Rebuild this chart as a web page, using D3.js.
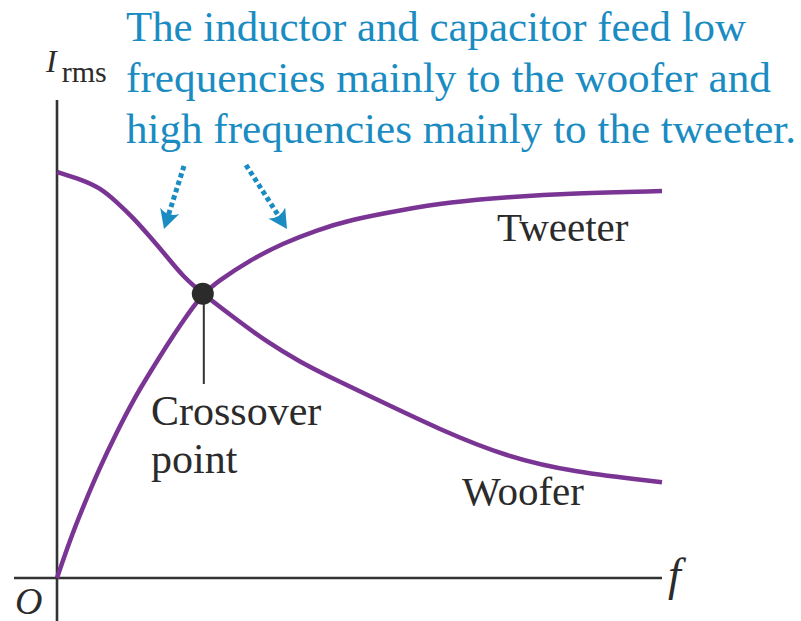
<!DOCTYPE html>
<html>
<head>
<meta charset="utf-8">
<script src="https://cdn.jsdelivr.net/npm/d3@7/dist/d3.min.js"></script>
<style>
  html, body { margin: 0; padding: 0; background: #fff; }
  svg { display: block; }
</style>
</head>
<body>
<svg id="chart" width="801" height="621"></svg>
<script>
// ---- Data (relative frequency 0..10, relative current 0..1) ----
const wooferF = [0, 0.43, 0.71, 0.99, 1.26, 1.54, 1.82, 2.08, 2.41, 2.91, 3.47, 4.02, 4.51, 5.17, 6.33, 7.44, 8.53, 10];
const wooferI = [1.0, 0.98, 0.961, 0.926, 0.887, 0.84, 0.791, 0.743, 0.70, 0.643, 0.581, 0.532, 0.495, 0.448, 0.365, 0.298, 0.261, 0.236];
const tweeterF = [0, 0.215, 0.43, 0.71, 0.99, 1.26, 1.54, 1.82, 2.08, 2.41, 2.65, 3.19, 3.74, 4.30, 4.84, 5.67, 6.5, 7.44, 8.53, 10];
const tweeterI = [0, 0.094, 0.175, 0.273, 0.36, 0.438, 0.507, 0.574, 0.633, 0.70, 0.73, 0.783, 0.825, 0.857, 0.882, 0.906, 0.926, 0.938, 0.948, 0.953];
const crossover = { f: 2.41, i: 0.70 };
const annotationLines = [
  "The inductor and capacitor feed low",
  "frequencies mainly to the woofer and",
  "high frequencies mainly to the tweeter."
];
const curveLabels = ["Tweeter", "Woofer"];
const crossoverLabel = ["Crossover", "point"];

// ---- Layout ----
const svg = d3.select("#chart");
const x = d3.scaleLinear().domain([0, 10]).range([57, 662]);
const y = d3.scaleLinear().domain([0, 1]).range([578, 172]);

const purple = "#7a3594";
const axisCol = "#333333";
const blue = "#1a8cc2";
const serif = "'Liberation Serif', 'Times New Roman', serif";

// axes
svg.append("line")
  .attr("x1", x(0) - 43).attr("x2", x(10))
  .attr("y1", y(0)).attr("y2", y(0))
  .attr("stroke", axisCol).attr("stroke-width", 2.6);
svg.append("line")
  .attr("x1", x(0)).attr("x2", x(0))
  .attr("y1", 100).attr("y2", 621)
  .attr("stroke", axisCol).attr("stroke-width", 2.6);

// curves
const line = d3.line()
  .x(d => x(d[0])).y(d => y(d[1]))
  .curve(d3.curveBasis);

svg.append("path")
  .datum(d3.zip(wooferF, wooferI))
  .attr("d", line)
  .attr("fill", "none").attr("stroke", purple)
  .attr("stroke-width", 4.5).attr("stroke-linecap", "butt");

svg.append("path")
  .datum(d3.zip(tweeterF, tweeterI))
  .attr("d", line)
  .attr("fill", "none").attr("stroke", purple)
  .attr("stroke-width", 4.5).attr("stroke-linecap", "butt");

// crossover leader + dot
svg.append("line")
  .attr("x1", x(crossover.f) + 1).attr("x2", x(crossover.f) + 1)
  .attr("y1", y(crossover.i)).attr("y2", 384)
  .attr("stroke", axisCol).attr("stroke-width", 2);
svg.append("circle")
  .attr("cx", x(crossover.f)).attr("cy", y(crossover.i))
  .attr("r", 11).attr("fill", "#2b2b2b");

// labels
svg.append("text")
  .attr("x", 497).attr("y", 241)
  .attr("font-family", serif).attr("font-size", 41).attr("fill", "#2b2b2b")
  .text(curveLabels[0]);
svg.append("text")
  .attr("x", 462).attr("y", 505)
  .attr("font-family", serif).attr("font-size", 41).attr("fill", "#2b2b2b")
  .text(curveLabels[1]);
svg.append("text")
  .attr("x", 151).attr("y", 425)
  .attr("font-family", serif).attr("font-size", 42).attr("fill", "#2b2b2b")
  .text(crossoverLabel[0]);
svg.append("text")
  .attr("x", 151).attr("y", 473)
  .attr("font-family", serif).attr("font-size", 42).attr("fill", "#2b2b2b")
  .text(crossoverLabel[1]);

// axis titles
const yl = svg.append("text")
  .attr("x", 46).attr("y", 72)
  .attr("font-family", serif).attr("fill", "#2b2b2b");
yl.append("tspan").attr("font-size", 32).attr("font-style", "italic").text("I");
yl.append("tspan").attr("font-size", 30).attr("dx", 5).attr("dy", 10).text("rms");

svg.append("text")
  .attr("x", 668).attr("y", 590)
  .attr("font-family", serif).attr("font-size", 46).attr("font-style", "italic")
  .attr("fill", "#2b2b2b").text("f");
svg.append("text")
  .attr("x", 15).attr("y", 614)
  .attr("font-family", serif).attr("font-size", 38).attr("font-style", "italic")
  .attr("fill", "#2b2b2b").text("O");

// annotation text
const ann = svg.append("g")
  .attr("font-family", serif).attr("font-size", 43).attr("fill", blue);
const lineWidths = [620, 645, 670];
annotationLines.forEach((t, i) => {
  ann.append("text")
    .attr("x", 126).attr("y", 41 + i * 51)
    .attr("textLength", lineWidths[i]).attr("lengthAdjust", "spacingAndGlyphs")
    .text(t);
});

// dotted arrows
function arrow(x1, y1, x2, y2) {
  const ang = Math.atan2(y2 - y1, x2 - x1);
  const back = 11;
  const ex = x2 - back * Math.cos(ang), ey = y2 - back * Math.sin(ang);
  svg.append("line")
    .attr("x1", x1).attr("y1", y1).attr("x2", ex).attr("y2", ey)
    .attr("stroke", blue).attr("stroke-width", 5)
    .attr("stroke-dasharray", "4.5 3.2");
  const head = "M0,0 L-19,-10 Q-12,0 -19,10 Z";
  svg.append("path")
    .attr("d", head)
    .attr("transform", `translate(${x2},${y2}) rotate(${ang * 180 / Math.PI})`)
    .attr("fill", blue);
}
arrow(184, 166, 164, 229);
arrow(246, 165, 287, 229);
</script>
</body>
</html>
